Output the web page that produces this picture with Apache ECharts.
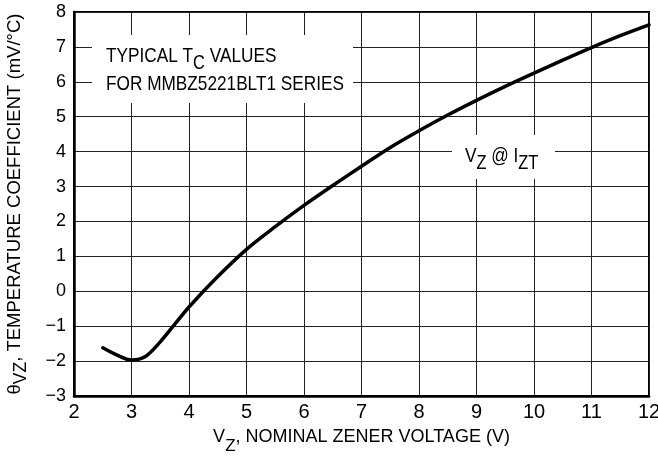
<!DOCTYPE html>
<html>
<head>
<meta charset="utf-8">
<script src="https://cdn.jsdelivr.net/npm/echarts@6/dist/echarts.min.js"></script>
<style>html,body{margin:0;padding:0;background:#fff}#c{width:658px;height:459px}</style>
</head>
<body>
<div id="c"></div>
<script>
// Data
const vz = [2.5, 2.75, 3.0, 3.25, 3.5, 3.75, 4.0, 4.5, 5.0, 5.5, 6.0, 6.5, 7.0, 7.5, 8.0, 8.5, 9.0, 9.5, 10.0, 10.5, 11.0, 11.5, 12.0];
const tc = [-1.62, -1.83, -1.97, -1.86, -1.45, -0.95, -0.45, 0.42, 1.2, 1.85, 2.46, 3.03, 3.58, 4.12, 4.6, 5.05, 5.47, 5.87, 6.25, 6.62, 6.98, 7.32, 7.63];
const xTicks = [2, 3, 4, 5, 6, 7, 8, 9, 10, 11, 12];
const yTicks = [-3, -2, -1, 0, 1, 2, 3, 4, 5, 6, 7, 8];

const FONT = 'Liberation Sans, Arial, sans-serif';

const chart = echarts.init(document.getElementById('c'), null, {renderer: 'canvas'});

function richSub(size, subSize, subLH) {
  return {
    n: {fontSize: size, fontFamily: FONT, color: '#000', lineHeight: 22, verticalAlign: 'top'},
    s: {fontSize: subSize, fontFamily: FONT, color: '#000', lineHeight: subLH, verticalAlign: 'bottom'}
  };
}

chart.setOption({
  animation: false,
  backgroundColor: '#fff',
  grid: {left: 74, right: 9, top: 12, bottom: 63, containLabel: false, outerBoundsMode: 'none',
    show: true, borderColor: '#000', borderWidth: 2, backgroundColor: 'transparent'},
  xAxis: {
    type: 'value', min: xTicks[0], max: xTicks[xTicks.length - 1], interval: 1,
    axisLine: {show: true, onZero: false, lineStyle: {color: '#000', width: 2.5}},
    axisTick: {show: false},
    splitLine: {show: true, lineStyle: {color: '#222', width: 1}},
    axisLabel: {fontSize: 20, fontFamily: FONT, color: '#000', margin: 6},
    name: '{n|V}{s|Z}{n|, NOMINAL ZENER VOLTAGE (V)}',
    nameLocation: 'middle', nameGap: 32,
    nameTextStyle: {rich: richSub(18, 17, 27)}
  },
  yAxis: {
    type: 'value', min: yTicks[0], max: yTicks[yTicks.length - 1], interval: 1,
    axisLine: {show: true, onZero: false, lineStyle: {color: '#000', width: 2.5}},
    axisTick: {show: false},
    splitLine: {show: true, lineStyle: {color: '#222', width: 1}},
    axisLabel: {fontSize: 18, fontFamily: FONT, color: '#000', margin: 8,
      formatter: v => v < 0 ? '\u2212' + Math.abs(v) : String(v)},
    name: '{n|\u03B8}{s|VZ}{n|, TEMPERATURE COEFFICIENT (mV/\u00B0C)}',
    nameLocation: 'middle', nameGap: 44,
    nameTextStyle: {rich: richSub(18.5, 17.5, 25)}
  },
  graphic: [
    {type: 'rect', z: 5, shape: {x: 92, y: 35, width: 261, height: 68}, style: {fill: '#fff'}},
    {type: 'text', z: 6, x: 106, y: 46, scaleX: 0.82,
      style: {text: '{n|TYPICAL T}{s|C}{n| VALUES}', rich: richSub(21, 20, 27), verticalAlign: 'top'}},
    {type: 'text', z: 6, x: 106, y: 74, scaleX: 0.82,
      style: {text: '{n|FOR MMBZ5221BLT1 SERIES}', rich: richSub(21, 20, 27), verticalAlign: 'top'}},
    {type: 'rect', z: 5, shape: {x: 452, y: 135, width: 103, height: 44}, style: {fill: '#fff'}},
    {type: 'text', z: 6, x: 465, y: 146, scaleX: 0.82,
      style: {text: '{n|V}{s|Z}{n| @ I}{s|ZT}', rich: richSub(21, 20, 27), verticalAlign: 'top'}}
  ],
  series: [{
    type: 'line', z: 10, smooth: 0.3, showSymbol: false, symbol: 'none',
    data: vz.map((x, i) => [x, tc[i]]),
    lineStyle: {color: '#000', width: 3.5, join: 'round', cap: 'round'}
  }]
});
</script>
</body>
</html>
